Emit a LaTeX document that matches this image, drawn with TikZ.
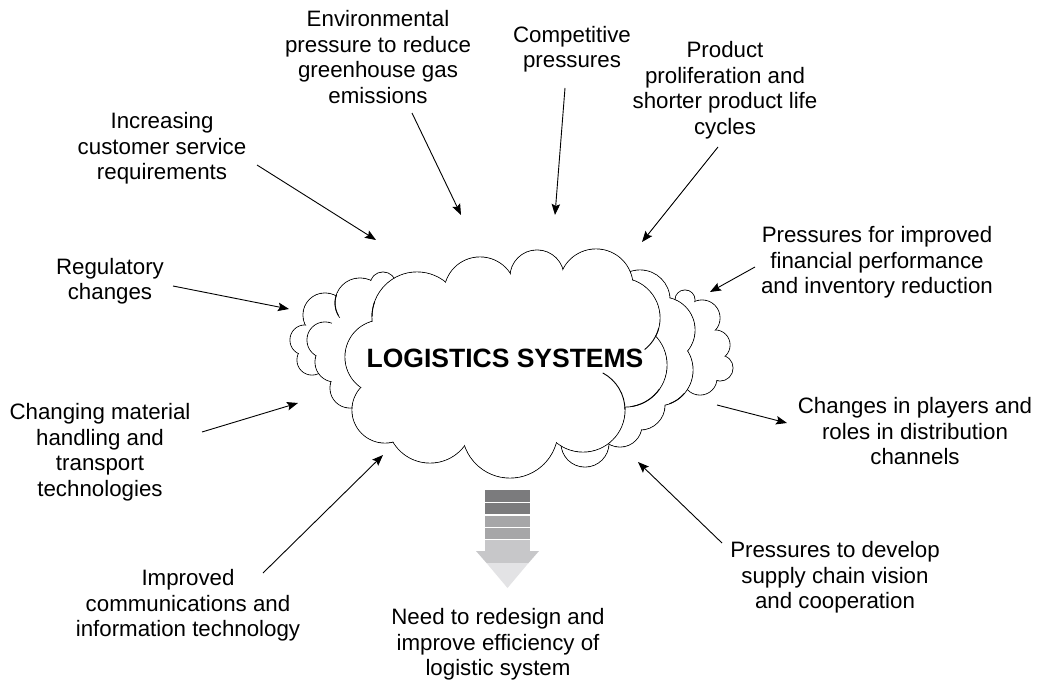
\documentclass[tikz,border=0pt]{standalone}
\usepackage{fontspec}
\setmainfont{Liberation Sans}
\usetikzlibrary{arrows.meta}
\newcommand\cloudlayer[2]{%
  \foreach \cx/\cy/\cr in {#1} {\draw[cloudline] (\cx,\cy) circle[radius=\cr];}
  \foreach \cx/\cy/\cr in {#1,#2} {\fill[white] (\cx,\cy) circle[radius=\cr-0.45];}
}
\begin{document}
\begin{tikzpicture}[x=1pt,y=-1pt,
  lbl/.style={align=center,inner sep=0pt,font=\fontsize{22.3}{25.5}\selectfont},
  arr/.style={line width=0.9pt,-{Stealth[length=11pt,width=8.5pt,inset=2pt]}},
  cloudline/.style={line width=0.9pt,draw=black}]
\useasboundingbox[fill=white] (0,0) rectangle (1039,682);

% back layer
\cloudlayer{325/315/22, 305/340/15, 312/360/15, 335/355/20,
  685/300/10, 702/318/18, 715/345/15, 720/368/13, 700/378/17}
  {330/340/15, 690/345/25, 700/360/14}
% middle layer
\cloudlayer{360/303/25, 383/285/13, 325/340/18, 335/362/20, 350/388/20,
  640/300/30, 662/330/33, 657/370/36, 640/405/25, 620/425/22, 585/443/24}
  {350/340/25, 650/350/35}
% front layer
\cloudlayer{417/317/45, 480/293/36, 537/277/27, 596/286/37, 620/318/40, 625/365/42,
  583/410/42, 510/430/48, 430/420/43, 385/410/33, 382/357/37}
  {535/310/32, 460/320/30}
\fill[white] (505,355) ellipse[x radius=120,y radius=60];
% inner strokes of the cloud
\draw[cloudline] (583,410) ++(-62:42) arc[start angle=-62,end angle=0,radius=42];
\draw[cloudline] (625,365) ++(35:42) arc[start angle=35,end angle=80,radius=42];
\draw[cloudline] (620,318) ++(15:40) arc[start angle=15,end angle=52,radius=40];
\draw[cloudline] (417,317) ++(180:45) arc[start angle=180,end angle=200,radius=45];
\draw[cloudline] (360,303) ++(150:25) arc[start angle=150,end angle=200,radius=25];
\draw[cloudline] (657,370) ++(40:36) arc[start angle=40,end angle=70,radius=36];

\node[font=\fontsize{26.5}{30}\selectfont\bfseries,inner sep=0pt] (core) at (505,358) {LOGISTICS SYSTEMS};

% labels
\node[lbl] (env) at (378,60) {\strut Environmental\\\strut pressure to reduce\\\strut greenhouse gas\\\strut emissions};
\node[lbl] (comp) at (572,50) {\strut Competitive\\\strut pressures};
\node[lbl] (prod) at (725,91) {\strut Product\\\strut proliferation and\\\strut shorter product life\\\strut cycles};
\node[lbl] (cust) at (162,149) {\strut Increasing\\\strut customer service\\\strut requirements};
\node[lbl] (reg) at (110,282) {\strut Regulatory\\\strut changes};
\node[lbl] (fin) at (877,263) {\strut Pressures for improved\\\strut financial performance\\\strut and inventory reduction};
\node[lbl] (play) at (915,434) {\strut Changes in players and\\\strut roles in distribution\\\strut channels};
\node[lbl] (mat) at (100,453) {\strut Changing material\\\strut handling and\\\strut transport\\\strut technologies};
\node[lbl] (comm) at (188,606) {\strut Improved\\\strut communications and\\\strut information technology};
\node[lbl] (vis) at (835,578) {\strut Pressures to develop\\\strut supply chain vision\\\strut and cooperation};
\node[lbl] (need) at (498,645) {\strut Need to redesign and\\\strut improve efficiency of\\\strut logistic system};

% arrow end points
\coordinate (envS) at (412,113); \coordinate (envE) at (461,215);
\coordinate (compS) at (565,88); \coordinate (compE) at (555,215);
\coordinate (prodS) at (718,147); \coordinate (prodE) at (642,242);
\coordinate (custS) at (257,165); \coordinate (custE) at (376,240);
\coordinate (regS) at (173,286); \coordinate (regE) at (289,309);
\coordinate (finS) at (755,267); \coordinate (finE) at (710,292);
\coordinate (playS) at (717,405); \coordinate (playE) at (787,423);
\coordinate (matS) at (202,432); \coordinate (matE) at (298,403);
\coordinate (commS) at (263,573); \coordinate (commE) at (383,455);
\coordinate (visS) at (722,543); \coordinate (visE) at (638,462);

\draw[arr] (envS) -- (envE);
\draw[arr] (compS) -- (compE);
\draw[arr] (prodS) -- (prodE);
\draw[arr] (custS) -- (custE);
\draw[arr] (regS) -- (regE);
\draw[arr] (finS) -- (finE);
\draw[arr] (playS) -- (playE);
\draw[arr] (matS) -- (matE);
\draw[arr] (commS) -- (commE);
\draw[arr] (visS) -- (visE);

% block arrow
\definecolor{barA}{HTML}{7B7B7D}
\definecolor{barB}{HTML}{A6A6A8}
\definecolor{barC}{HTML}{C7C7C9}
\definecolor{barD}{HTML}{E3E3E5}
\fill[barA] (485,490) rectangle (530,501.5);
\fill[barA] (485,503) rectangle (530,514);
\fill[barB] (485,515.5) rectangle (530,526.5);
\fill[barB] (485,528) rectangle (530,538.5);
\fill[barC] (485,540) rectangle (530,551.5);
\fill[barC] (476,551) -- (539,551) -- (528.5,563) -- (486.5,563) -- cycle;
\fill[barD] (486.5,563) -- (528.5,563) -- (507.5,588) -- cycle;
\end{tikzpicture}
\end{document}
